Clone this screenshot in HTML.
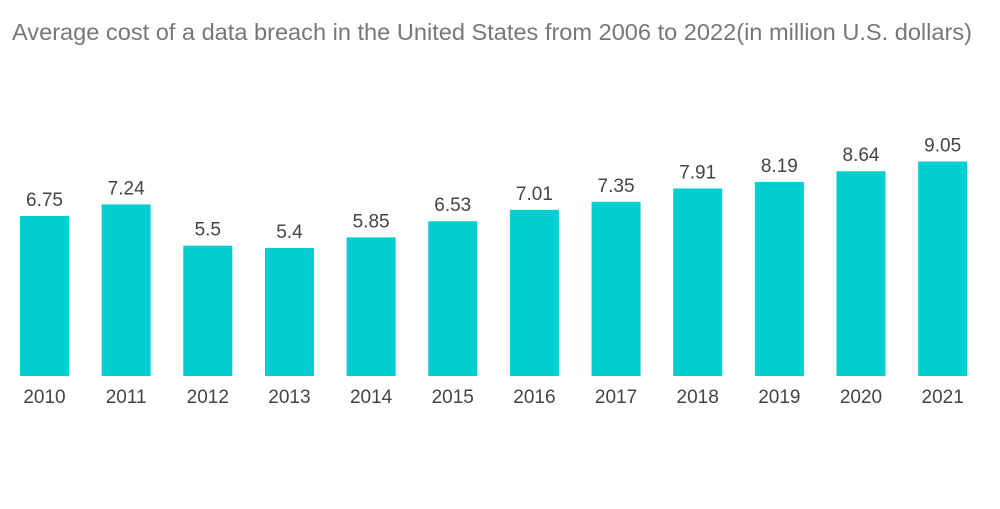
<!DOCTYPE html>
<html><head><meta charset="utf-8"><style>
body{margin:0;background:#fff;width:1000px;height:504px;overflow:hidden;font-family:"Liberation Sans",sans-serif}
</style></head><body>
<svg width="1000" height="504">
<text x="12" y="40" font-size="23" textLength="960" lengthAdjust="spacingAndGlyphs" fill="#777">Average cost of a data breach in the United States from 2006 to 2022(in million U.S. dollars)</text>
<g id="bars"></g>
</svg>
<script>
const categories=["2010","2011","2012","2013","2014","2015","2016","2017","2018","2019","2020","2021"];
const values=[6.75,7.24,5.5,5.4,5.85,6.53,7.01,7.35,7.91,8.19,8.64,9.05];
const labels=["6.75","7.24","5.5","5.4","5.85","6.53","7.01","7.35","7.91","8.19","8.64","9.05"];
const base=376,scale=23.7,x0=20,step=81.65,bw=49;
const xs=i=>x0+i*step, ys=v=>base-v*scale;
const g=document.getElementById('bars'),NS='http://www.w3.org/2000/svg';
categories.forEach((c,i)=>{
 const r=document.createElementNS(NS,'rect');
 r.setAttribute('x',xs(i));r.setAttribute('y',ys(values[i]));r.setAttribute('width',bw);r.setAttribute('height',base-ys(values[i]));r.setAttribute('fill','#00ced1');
 
 
 g.appendChild(r);
 const t=document.createElementNS(NS,'text');
 t.setAttribute('x',xs(i)+bw/2);t.setAttribute('y',ys(values[i])-10);t.setAttribute('text-anchor','middle');t.setAttribute('font-size','19');t.setAttribute('fill','#444');t.textContent=labels[i];
 
 
 g.appendChild(t);
 const a=document.createElementNS(NS,'text');
 a.setAttribute('x',xs(i)+bw/2);a.setAttribute('y',403);a.setAttribute('text-anchor','middle');a.setAttribute('font-size','19');a.setAttribute('fill','#444');a.textContent=c;
 
 
 g.appendChild(a);
});
</script>
</body></html>
